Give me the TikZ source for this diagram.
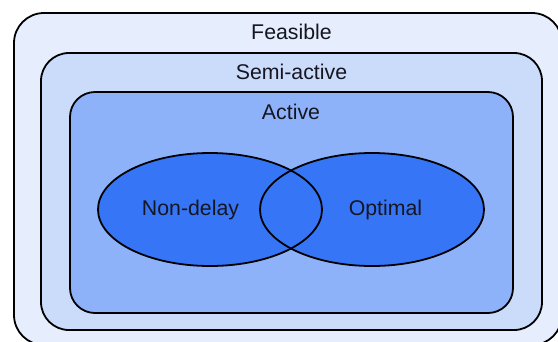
\documentclass[tikz,border=0pt]{standalone}
\usepackage{fontspec}
\setmainfont{Liberation Sans}

\definecolor{feasfill}{RGB}{230,237,252}
\definecolor{semifill}{RGB}{203,220,251}
\definecolor{actfill}{RGB}{142,178,249}
\definecolor{setfill}{RGB}{54,118,246}
\definecolor{labeltext}{RGB}{22,22,34}

\newcommand{\ringwidth}{1.8}
\newcommand{\ellrx}{112}
\newcommand{\ellry}{56.5}

\tikzset{
  setbox/.style={draw=black, line width=\ringwidth, rounded corners=#1},
  setlabel/.style={text=labeltext, font=\fontsize{21.3}{25}\selectfont, inner sep=0pt},
  setedge/.style={draw=black, line width=\ringwidth}
}

\begin{document}
\begin{tikzpicture}[x=1pt, y=-1pt]
\clip (0,0) rectangle (558,341);
\fill[white] (0,0) rectangle (558,341);

  % nested rounded boxes
  \draw [setbox=30, fill=feasfill] (14,13) rectangle (562,345);
  \draw [setbox=28, fill=semifill] (41,53) rectangle (542,330);
  \draw [setbox=25, fill=actfill] (70,92) rectangle (513,313);

  \coordinate (C1) at (210,209.5);
  \coordinate (C2) at (372,209.5);

  % two overlapping sets, outlines after both fills
  \fill [setfill] (C1) ellipse [x radius=\ellrx, y radius=\ellry];
  \fill [setfill] (C2) ellipse [x radius=\ellrx, y radius=\ellry];
  \draw [setedge] (C1) ellipse [x radius=\ellrx, y radius=\ellry];
  \draw [setedge] (C2) ellipse [x radius=\ellrx, y radius=\ellry];

  \node [setlabel] (feasible) at (291.5,32) {Feasible};
  \node [setlabel] (semiactive) at (291.5,72) {Semi-active};
  \node [setlabel] (active) at (291,112) {Active};
  \node [setlabel] (nondelay) at (190.5,210) {Non-delay};
  \node [setlabel] (optimal) at (385.5,210) {Optimal};

\end{tikzpicture}
\end{document}
